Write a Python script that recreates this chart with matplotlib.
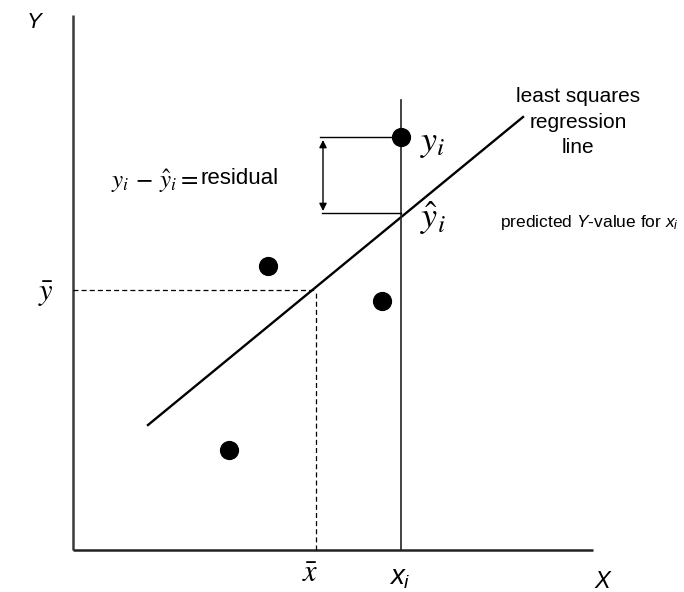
import matplotlib.pyplot as plt

plt.rcParams['mathtext.fontset'] = 'custom'
plt.rcParams['mathtext.rm'] = 'Liberation Sans'
plt.rcParams['mathtext.it'] = 'Liberation Sans:italic'

# sample points (x, y)
pts_x = [328, 195, 309, 156]
pts_y = [413, 284, 249, 100]

# fitted line end points
line_x = [75, 450]
line_y = [125, 433]

# means and the highlighted observation
x_bar, y_bar = 243, 260
x_i, y_i, y_hat_i = 328, 413, 337

fig = plt.figure(figsize=(6.84, 5.92), dpi=100)
ax = fig.add_axes([0, 0, 1, 1])
ax.set_xlim(-73, 611)
ax.set_ylim(-42, 550)
ax.axis('off')

# axes drawn by hand
ax.plot([0, 0], [0, 535], color='#3a3a3a', lw=1.8, solid_capstyle='butt')
ax.plot([0, 520], [0, 0], color='#222222', lw=1.8, solid_capstyle='butt')

ax.plot(line_x, line_y, color='black', lw=1.7)
ax.plot([x_i, x_i], [0, 450], color='#222222', lw=1.2)

ax.plot([0, x_bar], [y_bar, y_bar], color='black', lw=0.9, ls=(0, (4, 2.5)))
ax.plot([x_bar, x_bar], [0, y_bar], color='black', lw=0.9, ls=(0, (4, 2.5)))

ax.plot([247, x_i], [y_i, y_i], color='black', lw=1.0)
ax.plot([249, x_i], [y_hat_i, y_hat_i], color='black', lw=1.0)
ax.annotate('', xy=(250, y_hat_i + 2), xytext=(250, y_i - 3),
            arrowprops=dict(arrowstyle='<|-|>', color='black', lw=1.0,
                            mutation_scale=11, shrinkA=0, shrinkB=0))

ax.scatter(pts_x, pts_y, s=165, color='black', zorder=3)

ax.text(-39, 528, 'Y', fontsize=16, family='Liberation Sans', style='italic',
        ha='center', va='center')
ax.text(529, -31, 'X', fontsize=17, family='Liberation Sans', style='italic',
        ha='center', va='center')
ax.text(-27, 256, r'$\bar{y}$', fontsize=22, math_fontfamily='stix',
        ha='center', va='center')
ax.text(237, -24, r'$\bar{x}$', fontsize=22, math_fontfamily='stix',
        ha='center', va='center')
ax.text(327, -27, r'$x_i$', fontsize=20, math_fontfamily='custom',
        ha='center', va='center')

ax.text(347, 407, r'$y_i$', fontsize=26, math_fontfamily='stix',
        ha='left', va='center')
ax.text(347, 332, r'$\hat{y}_i$', fontsize=26, math_fontfamily='stix',
        ha='left', va='center')

ax.text(38, 369, r'$y_i\, -\, \hat{y}_i =$', fontsize=18, math_fontfamily='stix',
        ha='left', va='center')
ax.text(127, 372, 'residual', fontsize=16, family='Liberation Sans',
        ha='left', va='center')

ax.text(505, 428, 'least squares\nregression\nline', fontsize=15,
        family='Liberation Sans', ha='center', va='center', linespacing=1.45)
ax.text(427, 328, r'predicted $Y$-value for $x_i$', fontsize=12.5,
        family='Liberation Sans', math_fontfamily='custom', ha='left', va='center')

fig.savefig('out.png', dpi=100)
